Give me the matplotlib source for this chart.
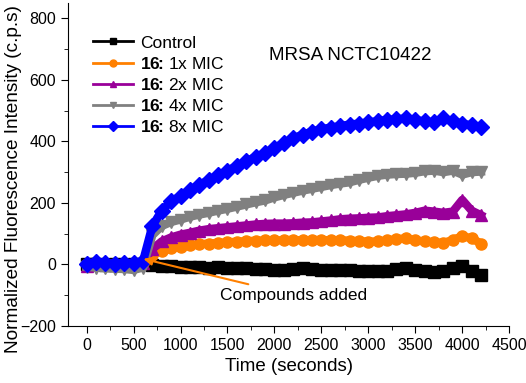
import matplotlib.pyplot as plt
from matplotlib.lines import Line2D
import numpy as np

plt.rcParams["font.family"] = ["Liberation Sans", "DejaVu Sans"]
plt.rcParams["mathtext.fontset"] = "custom"
plt.rcParams["mathtext.rm"] = "Liberation Sans"
plt.rcParams["mathtext.bf"] = "Liberation Sans:bold"

# time axis (seconds)
time = np.arange(0, 4201, 100)

control = [0, 2, -2, 1, -1, 0, 1, -3, -4, -6, -8, -9, -8, -10, -9, -11, -12, -12, -14, -15, -17,
           -18, -14, -13, -15, -17, -18, -19, -17, -20, -21, -22, -20, -14, -11, -17, -22, -24, -20,
           -10, -5, -20, -33]
mic1 = [0, 3, -1, 2, 0, 1, 5, 32, 44, 52, 57, 62, 66, 68, 70, 72, 74, 76, 77, 78, 78,
        79, 80, 78, 79, 80, 78, 79, 77, 76, 74, 75, 78, 82, 85, 78, 75, 72, 70,
        80, 92, 85, 68]
mic2 = [-5, 3, 2, -3, 2, 0, 5, 50, 75, 88, 97, 103, 110, 115, 118, 121, 124, 127, 130, 132, 133,
        133, 134, 136, 137, 140, 143, 147, 149, 150, 152, 153, 157, 160, 163, 168, 175, 172, 168,
        172, 210, 175, 160]
mic4 = [-8, -10, -12, -14, -15, -18, -10, 95, 125, 138, 146, 155, 162, 168, 175, 181, 188, 195, 202, 208, 218,
        226, 233, 240, 246, 252, 258, 263, 267, 275, 282, 288, 292, 294, 295, 298, 303, 305, 300,
        305, 292, 300, 302]
mic8 = [2, 8, 5, 3, 6, 4, 10, 125, 175, 205, 222, 243, 258, 275, 290, 305, 320, 335, 350, 362, 378,
        395, 410, 422, 432, 440, 445, 450, 455, 458, 462, 466, 470, 472, 475, 470, 465, 462, 475,
        465, 458, 452, 448]

series = [control, mic1, mic2, mic4, mic8]
labels = ["Control", r"$\mathbf{16\!\!:\!}$ 1x MIC", r"$\mathbf{16\!\!:\!}$ 2x MIC",
          r"$\mathbf{16\!\!:\!}$ 4x MIC", r"$\mathbf{16\!\!:\!}$ 8x MIC"]
colors = ["black", "#ff8000", "#990099", "#808080", "#0000ff"]
markers = ["s", "o", "^", "v", "D"]


def main():
    fig = plt.figure(figsize=(5.26, 3.83), dpi=100)
    ax = fig.add_axes([0.129, 0.149, 0.839, 0.843])

    handles = []
    for y, lab, c, m in zip(series, labels, colors, markers):
        ax.plot(time, y, color=c, marker=m, markersize=8, lw=6)
        handles.append(Line2D([], [], color=c, marker=m, markersize=5, lw=2, label=lab))

    ax.set_xlim(-200, 4500)
    ax.set_ylim(-200, 850)
    ax.set_xticks(np.arange(0, 4501, 500))
    ax.set_xticks(np.arange(250, 4500, 500), minor=True)
    ax.set_yticks(np.arange(-200, 801, 200))
    ax.set_yticks(np.arange(-100, 801, 200), minor=True)
    ax.spines["top"].set_visible(False)
    ax.spines["right"].set_visible(False)
    ax.tick_params(which="both", direction="out", labelsize=11.5)
    ax.tick_params(which="major", length=5)
    ax.tick_params(which="minor", length=3)

    ax.set_xlabel("Time (seconds)", fontsize=13.5)
    ax.set_ylabel("Normalized Fluorescence Intensity (c.p.s)", fontsize=13.7)
    ax.yaxis.set_label_coords(-0.103, 0.455)

    ax.text(1940, 680, "MRSA NCTC10422", fontsize=13.5, va="center")
    ax.annotate("Compounds added", xy=(605, 18), xytext=(1420, -100), fontsize=12.5,
                va="center", ha="left",
                arrowprops=dict(arrowstyle="-|>", color="#ff8000", lw=1.5,
                                shrinkA=2, shrinkB=0))

    ax.legend(handles=handles, loc="upper left", bbox_to_anchor=(0.057, 0.90), frameon=False,
              fontsize=12.5, handlelength=2.3, handletextpad=0.4, labelspacing=0.3,
              borderpad=0, borderaxespad=0)

    fig.savefig("out.png", dpi=100)


if __name__ == "__main__":
    main()
